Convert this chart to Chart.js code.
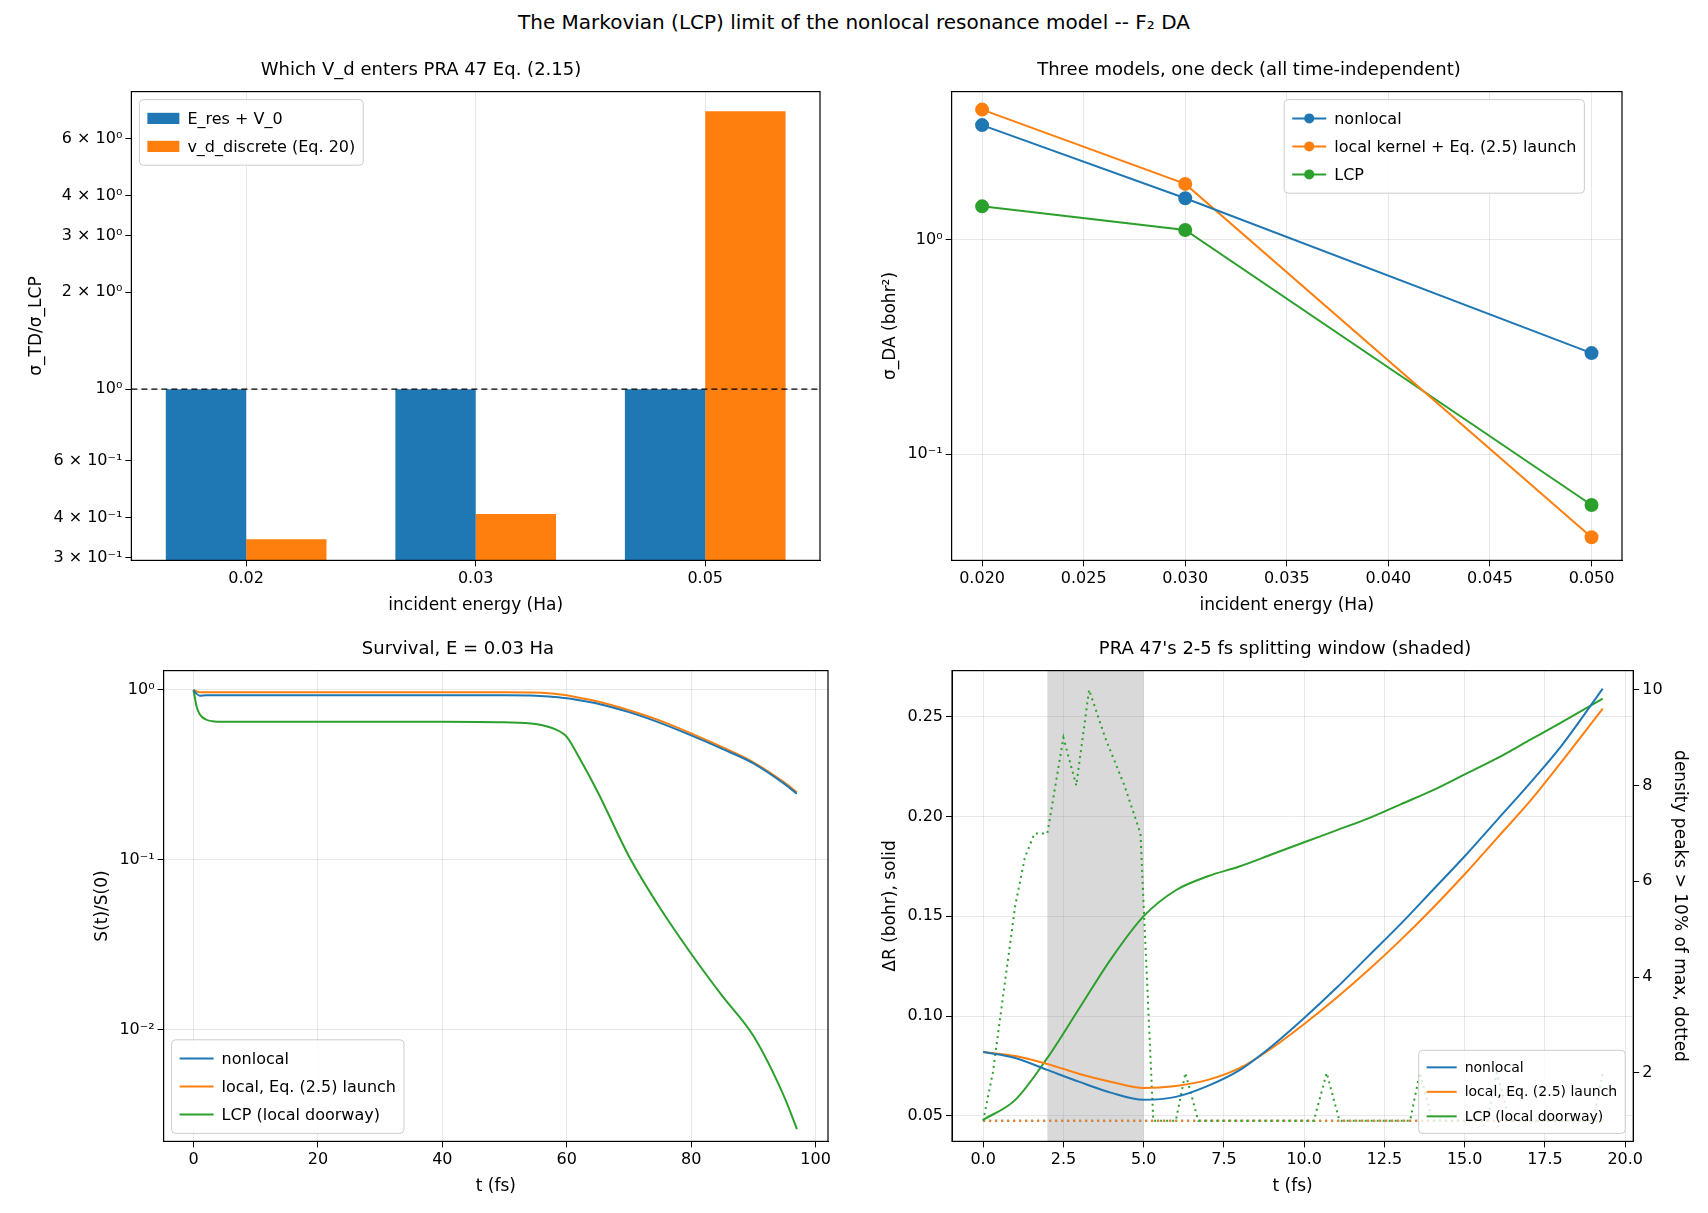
<!DOCTYPE html>
<html><head><meta charset="utf-8">
<script src="https://cdn.jsdelivr.net/npm/chart.js@4"></script>
<style>
body{margin:0;background:#fff;width:1708px;height:1213px;position:relative;overflow:hidden;font-family:"DejaVu Sans",sans-serif}
#title{position:absolute;top:10px;left:0;width:1708px;text-align:center;font-size:20px;color:#000}
.c{position:absolute}
</style></head><body>
<div id="title">The Markovian (LCP) limit of the nonlocal resonance model -- F₂ DA</div>
<div class="c" style="left:0;top:60px;width:840px;height:560px"><canvas id="c1"></canvas></div>
<div class="c" style="left:854px;top:60px;width:854px;height:560px"><canvas id="c2"></canvas></div>
<div class="c" style="left:0;top:639px;width:840px;height:574px"><canvas id="c3"></canvas></div>
<div class="c" style="left:854px;top:639px;width:854px;height:574px"><canvas id="c4"></canvas></div>
<script>
// ---------- data ----------
const energyLabels = ['0.02','0.03','0.05'];
const ratioEres = [1.0, 1.0, 1.0];
const ratioVdDiscrete = [0.342, 0.41, 7.3];
const ratioTicks = [0.3,0.4,0.6,1,2,3,4,6];
const ratioTickLabels = ['3 × 10⁻¹','4 × 10⁻¹','6 × 10⁻¹','10⁰','2 × 10⁰','3 × 10⁰','4 × 10⁰','6 × 10⁰'];

const energies = [0.02, 0.03, 0.05];
const sigmaNonlocal = [3.42, 1.56, 0.296];
const sigmaLocal = [4.04, 1.82, 0.041];
const sigmaLCP = [1.43, 1.11, 0.058];

const tSurv = [0,0.5,1,2,3,5,10,20,30,40,50,55,58,60,62,65,70,75,80,85,90,95,97];
const survNonlocal = [1,0.95,0.925,0.93,0.93,0.93,0.93,0.93,0.93,0.93,0.93,0.925,0.91,0.895,0.87,0.83,0.74,0.64,0.54,0.45,0.37,0.28,0.245];
const survLocal = [1,0.98,0.97,0.97,0.97,0.97,0.97,0.97,0.97,0.97,0.97,0.965,0.95,0.93,0.9,0.855,0.76,0.66,0.555,0.46,0.375,0.285,0.25];
const survLCP = [1,0.8,0.72,0.67,0.655,0.65,0.65,0.65,0.65,0.65,0.645,0.63,0.59,0.53,0.40,0.25,0.105,0.052,0.028,0.0158,0.0092,0.0040,0.0026];

const tDR = [0,1,2,3,4,5,6,7,8,9,10,11,12,13,14,15,16,17,18,19.3];
const drNonlocal = [0.082,0.079,0.073,0.067,0.0615,0.058,0.0595,0.065,0.073,0.085,0.099,0.114,0.13,0.146,0.163,0.18,0.198,0.216,0.235,0.264];
const drLocal = [0.082,0.080,0.076,0.071,0.067,0.064,0.065,0.068,0.074,0.084,0.096,0.109,0.123,0.138,0.154,0.171,0.189,0.207,0.227,0.254];
const drLCP = [0.048,0.058,0.079,0.104,0.129,0.150,0.163,0.170,0.175,0.181,0.187,0.193,0.199,0.206,0.213,0.221,0.229,0.238,0.247,0.259];
const tPeaks = [0,0.3,0.6,1.0,1.3,1.6,2.0,2.5,2.9,3.3,3.8,4.4,4.9,5.3,6.0,6.3,6.7,10.3,10.7,11.1,13.3,13.6,14.0,15.7,16.0,16.4,19.0,19.3];
const peaksLCP = [1,2,3.5,5.5,6.5,7,7,9,8,10,9,8,7,1,1,2,1,1,2,1,1,2,1,1,2,1,1,2];
const tPeaksFlat = [0,19.3];
const peaksNonlocal = [1,1];
const peaksLocal = [1,1];
const shadeWindow = [2,5];

// ---------- helpers ----------
const BLUE='#1f77b4', ORANGE='#ff7f0e', GREEN='#2ca02c';
Chart.defaults.font.family='"DejaVu Sans", sans-serif';
Chart.defaults.font.size=16;
Chart.defaults.color='#000';
Chart.defaults.animation=false;
const xy=(xs,ys)=>xs.map((x,i)=>({x:x,y:ys[i]}));
const gridC='rgba(0,0,0,0.09)';
const axisTitle=(t)=>({display:true,text:t,font:{size:17},padding:4});
function tickFix(vals){return function(s){s.ticks=vals.map(v=>({value:v}));};}

const framePlugin={id:'frame',afterDraw(c){const a=c.chartArea,x=c.ctx;x.save();x.strokeStyle='#000';x.lineWidth=1.2;x.strokeRect(a.left,a.top,a.right-a.left,a.bottom-a.top);x.restore();}};
const shadePlugin={id:'shade',beforeDatasetsDraw(c,args,o){if(!o.range)return;const a=c.chartArea,s=c.scales.x,x=c.ctx;x.save();x.fillStyle='rgba(128,128,128,0.3)';const l=s.getPixelForValue(o.range[0]),r=s.getPixelForValue(o.range[1]);x.fillRect(l,a.top,r-l,a.bottom-a.top);x.restore();}};
const hlinePlugin={id:'hline',afterDatasetsDraw(c,args,o){if(o.value==null)return;const a=c.chartArea,y=c.scales.y.getPixelForValue(o.value),x=c.ctx;x.save();x.strokeStyle='#000';x.lineWidth=1.3;x.setLineDash([6,4]);x.beginPath();x.moveTo(a.left,y);x.lineTo(a.right,y);x.stroke();x.restore();}};
const legPlugin={id:'inleg',afterDraw(c,args,o){if(!o.items)return;const x=c.ctx,a=c.chartArea,fs=o.size||15;x.save();x.font=fs+'px "DejaVu Sans", sans-serif';
 const lh=fs*1.75,sw=o.sw||34,pad=8;let w=0;o.items.forEach(it=>{w=Math.max(w,x.measureText(it.label).width);});
 const W=pad*2+sw+8+w,H=pad*1.2+lh*o.items.length;
 let L,T;if(o.pos==='ul'){L=a.left+8;T=a.top+8;}else if(o.pos==='ll'){L=a.left+8;T=a.bottom-8-H;}else if(o.pos==='lr'){L=a.right-8-W;T=a.bottom-8-H;}else{L=o.cx-W/2;T=a.top+8;}
 x.fillStyle='rgba(255,255,255,0.8)';x.strokeStyle='#ccc';x.lineWidth=1;x.beginPath();x.roundRect(L,T,W,H,4);x.fill();x.stroke();
 o.items.forEach((it,i)=>{const cy=T+pad*0.6+lh*(i+0.5);x.fillStyle=it.color;x.strokeStyle=it.color;
  if(it.type==='rect'){x.fillRect(L+pad,cy-fs*0.35,sw,fs*0.7);}else{x.lineWidth=2;x.beginPath();x.moveTo(L+pad,cy);x.lineTo(L+pad+sw,cy);x.stroke();if(it.type==='linept'){x.beginPath();x.arc(L+pad+sw/2,cy,5,0,Math.PI*2);x.fill();}}
  x.fillStyle='#000';x.textBaseline='middle';x.fillText(it.label,L+pad+sw+8,cy+1);});
 x.restore();}};
Chart.register(framePlugin,shadePlugin,hlinePlugin,legPlugin);
const ttl=(t)=>({display:true,text:t,font:{size:18,weight:'normal'},padding:{top:0,bottom:10}});
const tk={tickLength:6,tickColor:'#000'};

// ---------- chart 1 ----------
new Chart(document.getElementById('c1'),{type:'bar',
 data:{labels:energyLabels,datasets:[
  {label:'E_res + V_0',data:ratioEres,backgroundColor:BLUE,categoryPercentage:0.7,barPercentage:1},
  {label:'v_d_discrete (Eq. 20)',data:ratioVdDiscrete,backgroundColor:ORANGE,categoryPercentage:0.7,barPercentage:1}]},
 options:{responsive:true,maintainAspectRatio:false,layout:{padding:{left:22,right:20,top:0,bottom:0}},
  plugins:{legend:{display:false},tooltip:{enabled:false},title:ttl('Which V_d enters PRA 47 Eq. (2.15)'),
   hline:{value:1},inleg:{pos:'ul',size:16,sw:32,items:[{label:'E_res + V_0',color:BLUE,type:'rect'},{label:'v_d_discrete (Eq. 20)',color:ORANGE,type:'rect'}]}},
  scales:{x:{grid:{color:gridC,offset:false,...tk},title:axisTitle('incident energy (Ha)'),border:{color:'#000'}},
   y:{type:'logarithmic',min:0.294,max:8.4,afterBuildTicks:tickFix(ratioTicks),
    ticks:{callback:(v)=>{const i=ratioTicks.findIndex(t=>Math.abs(t-v)<1e-9);return i>=0?ratioTickLabels[i]:'';}},
    grid:{color:(ctx)=>Math.abs(ctx.tick&&ctx.tick.value-1)<1e-9?gridC:'rgba(0,0,0,0)',...tk},
    title:axisTitle('σ_TD/σ_LCP'),border:{color:'#000'}}}}});

// ---------- chart 2 ----------
new Chart(document.getElementById('c2'),{type:'line',
 data:{datasets:[
  {label:'nonlocal',data:xy(energies,sigmaNonlocal),borderColor:BLUE,backgroundColor:BLUE,pointRadius:6,borderWidth:2},
  {label:'local kernel + Eq. (2.5) launch',data:xy(energies,sigmaLocal),borderColor:ORANGE,backgroundColor:ORANGE,pointRadius:6,borderWidth:2},
  {label:'LCP',data:xy(energies,sigmaLCP),borderColor:GREEN,backgroundColor:GREEN,pointRadius:6,borderWidth:2}]},
 options:{responsive:true,maintainAspectRatio:false,layout:{padding:{left:22,right:86,top:0,bottom:0}},
  plugins:{legend:{display:false},tooltip:{enabled:false},title:ttl('Three models, one deck (all time-independent)'),
   inleg:{pos:'c',cx:0,size:16,items:[{label:'nonlocal',color:BLUE,type:'linept'},{label:'local kernel + Eq. (2.5) launch',color:ORANGE,type:'linept'},{label:'LCP',color:GREEN,type:'linept'}]}},
  scales:{x:{type:'linear',min:0.0185,max:0.0515,afterBuildTicks:tickFix([0.02,0.025,0.03,0.035,0.04,0.045,0.05]),ticks:{callback:v=>v.toFixed(3)},grid:{color:gridC,...tk},title:axisTitle('incident energy (Ha)'),border:{color:'#000'}},
   y:{type:'logarithmic',min:0.032,max:4.9,afterBuildTicks:tickFix([0.1,1]),ticks:{callback:v=>v>=1?'10⁰':'10⁻¹'},grid:{color:gridC,...tk},title:axisTitle('σ_DA (bohr²)'),border:{color:'#000'}}}},
 plugins:[{id:'setcx',beforeDraw(c){c.options.plugins.inleg.cx=c.chartArea.left+(c.chartArea.right-c.chartArea.left)*0.72;}}]});

// ---------- chart 3 ----------
new Chart(document.getElementById('c3'),{type:'line',
 data:{datasets:[
  {label:'nonlocal',data:xy(tSurv,survNonlocal),borderColor:BLUE,pointRadius:0,borderWidth:2,cubicInterpolationMode:'monotone'},
  {label:'local, Eq. (2.5) launch',data:xy(tSurv,survLocal),borderColor:ORANGE,pointRadius:0,borderWidth:2,cubicInterpolationMode:'monotone'},
  {label:'LCP (local doorway)',data:xy(tSurv,survLCP),borderColor:GREEN,pointRadius:0,borderWidth:2,cubicInterpolationMode:'monotone'}]},
 options:{responsive:true,maintainAspectRatio:false,layout:{padding:{left:88,right:12,top:0,bottom:12}},
  plugins:{legend:{display:false},tooltip:{enabled:false},title:ttl('Survival, E = 0.03 Ha'),
   inleg:{pos:'ll',size:16,items:[{label:'nonlocal',color:BLUE,type:'line'},{label:'local, Eq. (2.5) launch',color:ORANGE,type:'line'},{label:'LCP (local doorway)',color:GREEN,type:'line'}]}},
  scales:{x:{type:'linear',min:-4.8,max:102,afterBuildTicks:tickFix([0,20,40,60,80,100]),grid:{color:gridC,...tk},title:axisTitle('t (fs)'),border:{color:'#000'}},
   y:{type:'logarithmic',min:0.0022,max:1.3,afterBuildTicks:tickFix([0.01,0.1,1]),ticks:{callback:v=>v>=1?'10⁰':(v>=0.1?'10⁻¹':'10⁻²')},grid:{color:gridC,...tk},title:axisTitle('S(t)/S(0)'),border:{color:'#000'}}}}});

// ---------- chart 4 ----------
new Chart(document.getElementById('c4'),{type:'line',
 data:{datasets:[
  {label:'nonlocal',data:xy(tDR,drNonlocal),borderColor:BLUE,pointRadius:0,borderWidth:2,cubicInterpolationMode:'monotone',yAxisID:'y'},
  {label:'local, Eq. (2.5) launch',data:xy(tDR,drLocal),borderColor:ORANGE,pointRadius:0,borderWidth:2,cubicInterpolationMode:'monotone',yAxisID:'y'},
  {label:'LCP (local doorway)',data:xy(tDR,drLCP),borderColor:GREEN,pointRadius:0,borderWidth:2,cubicInterpolationMode:'monotone',yAxisID:'y'},
  {label:'pk LCP',data:xy(tPeaks,peaksLCP),borderColor:GREEN,pointRadius:0,borderWidth:2,borderDash:[2,4],yAxisID:'y1'},
  {label:'pk local',data:xy(tPeaksFlat,peaksLocal),borderColor:ORANGE,pointRadius:0,borderWidth:2,borderDash:[2,4],yAxisID:'y1'},
  {label:'pk nonlocal',data:xy(tPeaksFlat,peaksNonlocal),borderColor:BLUE,pointRadius:0,borderWidth:2,borderDash:[2,4],yAxisID:'y1'}]},
 options:{responsive:true,maintainAspectRatio:false,layout:{padding:{left:22,right:14,top:0,bottom:12}},
  plugins:{legend:{display:false},tooltip:{enabled:false},title:ttl("PRA 47's 2-5 fs splitting window (shaded)"),shade:{range:shadeWindow},
   inleg:{pos:'lr',size:14,sw:30,items:[{label:'nonlocal',color:BLUE,type:'line'},{label:'local, Eq. (2.5) launch',color:ORANGE,type:'line'},{label:'LCP (local doorway)',color:GREEN,type:'line'}]}},
  scales:{x:{type:'linear',min:-0.97,max:20.25,afterBuildTicks:tickFix([0,2.5,5,7.5,10,12.5,15,17.5,20]),ticks:{callback:v=>v.toFixed(1)},grid:{color:gridC,...tk},title:axisTitle('t (fs)'),border:{color:'#000'}},
   y:{type:'linear',position:'left',min:0.0372,max:0.273,afterBuildTicks:tickFix([0.05,0.1,0.15,0.2,0.25]),ticks:{callback:v=>v.toFixed(2)},grid:{color:gridC,...tk},title:axisTitle('ΔR (bohr), solid'),border:{color:'#000'}},
   y1:{type:'linear',position:'right',min:0.57,max:10.4,afterBuildTicks:tickFix([2,4,6,8,10]),grid:{drawOnChartArea:false,...tk},title:axisTitle('density peaks > 10% of max, dotted'),border:{color:'#000'}}}}});
</script>
</body></html>
